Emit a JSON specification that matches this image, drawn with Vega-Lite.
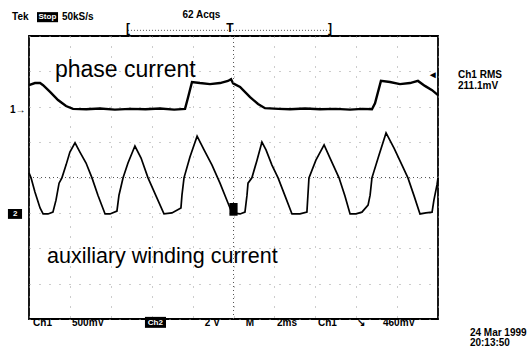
{
  "$schema": "https://vega.github.io/schema/vega-lite/v6.json",
  "width": 409,
  "height": 283,
  "autosize": {"type": "none"},
  "padding": {"left": 29, "top": 36, "right": 93, "bottom": 30},
  "background": "white",
  "config": {
    "view": {"stroke": "black", "strokeWidth": 1.8},
    "axis": {"labels": false, "ticks": false, "domain": false, "grid": true, "gridColor": "#999", "gridDash": [1, 9], "gridWidth": 1},
    "axisX": {"tickCount": 10},
    "axisY": {"tickCount": 8},
    "text": {"font": "Liberation Sans"}
  },
  "datasets": {
    "phase": [
      {"t": 0, "v": 2.61}, {"t": 0.29, "v": 2.67}, {"t": 0.54, "v": 2.67}, {"t": 0.69, "v": 2.61},
      {"t": 1.03, "v": 2.42}, {"t": 1.42, "v": 2.19}, {"t": 1.81, "v": 2.02}, {"t": 2.15, "v": 1.94},
      {"t": 2.8, "v": 1.93}, {"t": 3.47, "v": 1.95}, {"t": 4.2, "v": 1.92}, {"t": 4.94, "v": 1.94},
      {"t": 5.7, "v": 1.93}, {"t": 6.41, "v": 1.95}, {"t": 7.1, "v": 1.92}, {"t": 7.63, "v": 1.94},
      {"t": 7.78, "v": 2.27}, {"t": 7.97, "v": 2.7}, {"t": 8.36, "v": 2.67}, {"t": 8.85, "v": 2.64},
      {"t": 9.34, "v": 2.67}, {"t": 9.73, "v": 2.73}, {"t": 9.88, "v": 2.78}, {"t": 9.98, "v": 2.66},
      {"t": 10.32, "v": 2.56}, {"t": 10.81, "v": 2.27}, {"t": 11.2, "v": 2.08}, {"t": 11.54, "v": 1.96},
      {"t": 12.2, "v": 1.94}, {"t": 12.76, "v": 1.93}, {"t": 13.5, "v": 1.95}, {"t": 14.23, "v": 1.93},
      {"t": 15.0, "v": 1.94}, {"t": 15.7, "v": 1.92}, {"t": 16.3, "v": 1.94}, {"t": 16.77, "v": 1.93},
      {"t": 16.92, "v": 2.1}, {"t": 17.21, "v": 2.73}, {"t": 17.65, "v": 2.7}, {"t": 18.14, "v": 2.64},
      {"t": 18.63, "v": 2.67}, {"t": 19.02, "v": 2.73}, {"t": 19.36, "v": 2.59}, {"t": 19.71, "v": 2.47},
      {"t": 20.0, "v": 2.33}
    ],
    "aux": [
      {"t": 0, "v": 0.13}, {"t": 0.1, "v": -0.01}, {"t": 0.29, "v": -0.41}, {"t": 0.54, "v": -0.86},
      {"t": 0.69, "v": -1.03}, {"t": 0.93, "v": -1.03}, {"t": 1.17, "v": -0.98}, {"t": 1.32, "v": -0.64},
      {"t": 1.47, "v": -0.16}, {"t": 1.61, "v": -0.01}, {"t": 1.81, "v": 0.35}, {"t": 2.0, "v": 0.72},
      {"t": 2.25, "v": 0.98}, {"t": 2.49, "v": 0.72}, {"t": 2.79, "v": 0.41}, {"t": 3.08, "v": -0.01},
      {"t": 3.37, "v": -0.5}, {"t": 3.72, "v": -1.03}, {"t": 3.96, "v": -1.03}, {"t": 4.3, "v": -0.95},
      {"t": 4.4, "v": -0.5}, {"t": 4.6, "v": -0.01}, {"t": 4.84, "v": 0.41}, {"t": 5.18, "v": 0.89},
      {"t": 5.48, "v": 0.55}, {"t": 5.82, "v": -0.01}, {"t": 6.21, "v": -0.52}, {"t": 6.6, "v": -1.03},
      {"t": 6.99, "v": -1.0}, {"t": 7.43, "v": -0.86}, {"t": 7.48, "v": -0.5}, {"t": 7.58, "v": -0.01},
      {"t": 7.87, "v": 0.58}, {"t": 8.22, "v": 1.17}, {"t": 8.56, "v": 0.78}, {"t": 8.95, "v": 0.35},
      {"t": 9.34, "v": -0.16}, {"t": 9.73, "v": -0.72}, {"t": 9.93, "v": -1.0}, {"t": 10.32, "v": -1.03},
      {"t": 10.56, "v": -0.98}, {"t": 10.66, "v": -0.5}, {"t": 10.71, "v": -0.16}, {"t": 10.9, "v": -0.01},
      {"t": 11.15, "v": 0.49}, {"t": 11.39, "v": 1.0}, {"t": 11.59, "v": 0.78}, {"t": 11.88, "v": 0.35},
      {"t": 12.18, "v": -0.01}, {"t": 12.52, "v": -0.52}, {"t": 12.86, "v": -1.03}, {"t": 13.25, "v": -1.03},
      {"t": 13.59, "v": -0.98}, {"t": 13.69, "v": -0.01}, {"t": 14.03, "v": 0.49}, {"t": 14.43, "v": 0.92},
      {"t": 14.72, "v": 0.55}, {"t": 15.16, "v": -0.01}, {"t": 15.45, "v": -0.52}, {"t": 15.7, "v": -1.03},
      {"t": 15.99, "v": -1.03}, {"t": 16.28, "v": -0.98}, {"t": 16.58, "v": -0.78}, {"t": 16.68, "v": -0.5},
      {"t": 16.77, "v": -0.01}, {"t": 17.12, "v": 0.64}, {"t": 17.46, "v": 1.26}, {"t": 17.85, "v": 0.83},
      {"t": 18.24, "v": 0.35}, {"t": 18.53, "v": -0.01}, {"t": 18.83, "v": -0.52}, {"t": 19.12, "v": -1.03},
      {"t": 19.41, "v": -1.0}, {"t": 19.71, "v": -0.98}, {"t": 19.8, "v": -0.64}, {"t": 19.95, "v": -0.21},
      {"t": 20.0, "v": -0.01}
    ],
    "boxes": [
      {"t": 0.39, "t2": 1.42, "v": 4.675, "v2": 4.39},
      {"t": 5.67, "t2": 6.7, "v": -3.94, "v2": -4.25},
      {"t": -1.03, "t2": -0.34, "v": -0.89, "v2": -1.17},
      {"t": 9.8, "t2": 10.2, "v": -0.72, "v2": -1.08}
    ],
    "boxText": [
      {"label": "Stop", "t": 0.9, "v": 4.53},
      {"label": "Ch2", "t": 6.18, "v": -4.1},
      {"label": "2", "t": -0.68, "v": -1.03}
    ],
    "scopeText": [
      {"label": "Tek", "t": -0.83, "v": 4.53},
      {"label": "50kS/s", "t": 1.61, "v": 4.53},
      {"label": "62 Acqs", "t": 7.5, "v": 4.58},
      {"label": "Ch1 RMS", "t": 20.98, "v": 2.9},
      {"label": "211.1mV", "t": 20.98, "v": 2.6},
      {"label": "1→", "t": -0.93, "v": 1.91},
      {"label": "Ch1", "t": 0.2, "v": -4.11},
      {"label": "500mV", "t": 2.1, "v": -4.11},
      {"label": "2 V", "t": 8.6, "v": -4.11},
      {"label": "M", "t": 10.6, "v": -4.11},
      {"label": "2ms", "t": 12.13, "v": -4.11},
      {"label": "Ch1", "t": 14.13, "v": -4.11},
      {"label": "↘", "t": 16.04, "v": -4.11},
      {"label": "460mV", "t": 17.31, "v": -4.11},
      {"label": "24 Mar 1999", "t": 21.56, "v": -4.39},
      {"label": "20:13:50", "t": 21.56, "v": -4.68},
      {"label": "◄", "t": 19.5, "v": 2.9}
    ],
    "bracket": [
      {"label": "[", "t": 4.84, "v": 4.22},
      {"label": "T", "t": 9.83, "v": 4.22},
      {"label": "]", "t": 14.72, "v": 4.22}
    ],
    "phaseLabel": [
      {"label": "phase current", "t": 1.27, "v": 3.04}
    ],
    "auxLabel": [
      {"label": "auxiliary winding current", "t": 0.88, "v": -2.25}
    ]
  },
  "layer": [
    {
      "data": {"name": "phase"},
      "mark": {"type": "line", "color": "black", "strokeWidth": 2.4},
      "encoding": {
        "x": {"field": "t", "type": "quantitative", "title": null, "scale": {"domain": [0, 20], "nice": false, "zero": false}},
        "y": {"field": "v", "type": "quantitative", "title": null, "scale": {"domain": [-4, 4], "nice": false, "zero": false}}
      }
    },
    {
      "data": {"values": [{}]},
      "mark": {"type": "rule", "color": "#555", "strokeDash": [1, 3], "strokeWidth": 1},
      "encoding": {"x": {"datum": 10}, "y": {"datum": -4}, "y2": {"datum": 4}}
    },
    {
      "data": {"values": [{}]},
      "mark": {"type": "rule", "color": "#555", "strokeDash": [1, 3], "strokeWidth": 1},
      "encoding": {"y": {"datum": 0}, "x": {"datum": 0}, "x2": {"datum": 20}}
    },
    {
      "data": {"name": "aux"},
      "mark": {"type": "line", "color": "black", "strokeWidth": 1.7},
      "encoding": {
        "x": {"field": "t", "type": "quantitative", "title": null},
        "y": {"field": "v", "type": "quantitative", "title": null}
      }
    },
    {
      "data": {"name": "boxes"},
      "mark": {"type": "rect", "color": "black"},
      "encoding": {
        "x": {"field": "t", "type": "quantitative", "title": null},
        "x2": {"field": "t2"},
        "y": {"field": "v", "type": "quantitative", "title": null},
        "y2": {"field": "v2"}
      }
    },
    {
      "data": {"name": "boxText"},
      "mark": {"type": "text", "color": "white", "fontSize": 8, "fontWeight": "bold", "align": "center", "baseline": "middle"},
      "encoding": {
        "x": {"field": "t", "type": "quantitative", "title": null},
        "y": {"field": "v", "type": "quantitative", "title": null},
        "text": {"field": "label"}
      }
    },
    {
      "data": {"name": "scopeText"},
      "mark": {"type": "text", "color": "black", "fontSize": 10, "fontWeight": "bold", "align": "left", "baseline": "middle"},
      "encoding": {
        "x": {"field": "t", "type": "quantitative", "title": null},
        "y": {"field": "v", "type": "quantitative", "title": null},
        "text": {"field": "label"}
      }
    },
    {
      "data": {"values": [{}]},
      "mark": {"type": "rule", "color": "#555", "strokeDash": [1, 2], "strokeWidth": 1},
      "encoding": {"x": {"datum": 4.84}, "x2": {"datum": 14.72}, "y": {"datum": 4.16}}
    },
    {
      "data": {"name": "bracket"},
      "mark": {"type": "text", "color": "black", "fontSize": 12, "fontWeight": "bold", "align": "center", "baseline": "middle"},
      "encoding": {
        "x": {"field": "t", "type": "quantitative", "title": null},
        "y": {"field": "v", "type": "quantitative", "title": null},
        "text": {"field": "label"}
      }
    },
    {
      "data": {"name": "phaseLabel"},
      "mark": {"type": "text", "color": "black", "fontSize": 23, "align": "left", "baseline": "middle"},
      "encoding": {
        "x": {"field": "t", "type": "quantitative", "title": null},
        "y": {"field": "v", "type": "quantitative", "title": null},
        "text": {"field": "label"}
      }
    },
    {
      "data": {"name": "auxLabel"},
      "mark": {"type": "text", "color": "black", "fontSize": 21.5, "align": "left", "baseline": "middle"},
      "encoding": {
        "x": {"field": "t", "type": "quantitative", "title": null},
        "y": {"field": "v", "type": "quantitative", "title": null},
        "text": {"field": "label"}
      }
    }
  ]
}
